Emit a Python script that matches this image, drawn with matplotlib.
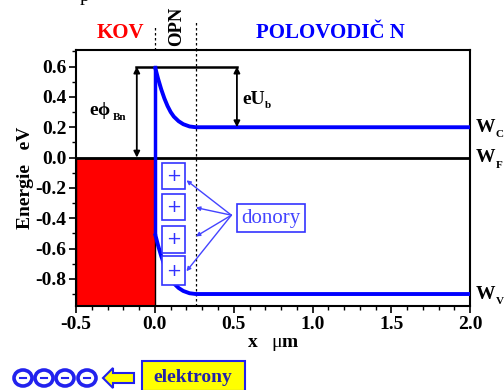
import matplotlib
matplotlib.use("Agg")
import matplotlib.pyplot as plt
from matplotlib.patches import Rectangle, Ellipse, FancyArrow
import numpy as np

plt.rcParams['font.family'] = ['Liberation Serif', 'DejaVu Serif']
plt.rcParams['mathtext.fontset'] = 'custom'
plt.rcParams['mathtext.rm'] = 'Liberation Serif'
plt.rcParams['mathtext.bf'] = 'Liberation Serif:bold'

# data
x_wc = [0.0, 0.02, 0.04, 0.06, 0.08, 0.10, 0.12, 0.15, 0.18, 0.22, 0.26, 0.40, 1.0, 2.0]
wc = [0.60, 0.52, 0.45, 0.39, 0.34, 0.30, 0.27, 0.24, 0.22, 0.205, 0.20, 0.20, 0.20, 0.20]
wv = [-0.50, -0.58, -0.65, -0.71, -0.76, -0.80, -0.83, -0.86, -0.88, -0.895, -0.90, -0.90, -0.90, -0.90]
w_f = 0.0
barrier = 0.6
x_metal = [-0.5, 0.0]
x_opn = 0.26
x_ticks = [-0.5, 0.0, 0.5, 1.0, 1.5, 2.0]
x_ticklabels = ['-0.5', '0.0', '0.5', '1.0', '1.5', '2.0']
y_ticks = [-0.8, -0.6, -0.4, -0.2, 0.0, 0.2, 0.4, 0.6]
y_ticklabels = ['-0.8', '-0.6', '-0.4', '-0.2', '0.0', '0.2', '0.4', '0.6']
donor_y = [(-0.21, -0.035), (-0.415, -0.24), (-0.63, -0.45), (-0.84, -0.65)]
donor_x = (0.045, 0.19)
donor_targets = [(0.20, -0.15), (0.26, -0.33), (0.26, -0.52), (0.20, -0.75)]

fig = plt.figure(figsize=(5.04, 3.90), dpi=100)
ax = fig.add_axes([0.151, 0.215, 0.782, 0.657])
ax.set_xlim(-0.5, 2.0)
ax.set_ylim(-0.98, 0.71)

# metal
ax.add_patch(Rectangle((x_metal[0], -0.98), x_metal[1] - x_metal[0], 0.98 - w_f,
                       facecolor='#ff0000', edgecolor='black', lw=1, zorder=1))
# Fermi level
ax.axhline(w_f, color='black', lw=2, zorder=3)
# OPN boundary
ax.axvline(x_opn, color='black', lw=0.9, ls=(0, (2, 2)), zorder=2)

# bands
ax.plot(x_wc, wc, color='#0000ff', lw=2.8, zorder=4, solid_capstyle='butt')
ax.plot(x_wc, wv, color='#0000ff', lw=2.8, zorder=4, solid_capstyle='butt')
ax.plot([0, 0], [barrier, wv[0]], color='#0000ff', lw=2.5, zorder=4)

# bracket and arrows
ax.plot([-0.12, 0.52], [barrier, barrier], color='black', lw=1.8, zorder=3)
for xa, y0, y1 in [(-0.115, barrier, w_f), (0.52, barrier, wc[-1])]:
    ax.annotate('', xy=(xa, y1), xytext=(xa, y0),
                arrowprops=dict(arrowstyle='<|-|>', color='black', lw=1.3,
                                mutation_scale=9, shrinkA=0, shrinkB=0), zorder=5)
ax.text(-0.35, 0.31, r'e$\mathbf{\phi}$', fontsize=14, fontweight='bold', ha='center', va='center')
ax.text(-0.225, 0.265, 'Bn', fontsize=8, fontweight='bold', ha='center', va='center')
ax.text(0.625, 0.38, 'eU', fontsize=14, fontweight='bold', ha='center', va='center')
ax.text(0.715, 0.345, 'b', fontsize=8, fontweight='bold', ha='center', va='center')

# donors
for (y0, y1), (tx, ty) in zip(donor_y, donor_targets):
    ax.add_patch(Rectangle((donor_x[0], y0), donor_x[1] - donor_x[0], y1 - y0,
                           facecolor='white', edgecolor='#3333ff', lw=1.2, zorder=5))
    ax.text((donor_x[0] + donor_x[1]) / 2, (y0 + y1) / 2, '+', color='#3333ff',
            fontsize=13, ha='center', va='center', zorder=6, family='DejaVu Sans')
    ax.annotate('', xy=(tx, ty), xytext=(0.485, -0.38),
                arrowprops=dict(arrowstyle='-|>', color='#4444ff', lw=1.0,
                                mutation_scale=6, shrinkA=0, shrinkB=0), zorder=6)
ax.text(0.735, -0.40, 'donory', color='#4444ff', fontsize=15, ha='center', va='center',
        bbox=dict(boxstyle='square,pad=0.22', facecolor='white', edgecolor='#3333ff', lw=1.2),
        zorder=7)

# axes styling
ax.set_xticks(x_ticks)
ax.set_xticklabels(x_ticklabels, fontsize=14, fontweight='bold')
ax.set_yticks(y_ticks)
ax.set_yticklabels(y_ticklabels, fontsize=14, fontweight='bold')
ax.set_xticks(np.arange(-0.5, 2.01, 0.1), minor=True)
ax.set_yticks(np.arange(-0.9, 0.71, 0.1), minor=True)
ax.tick_params(which='major', direction='out', length=5, width=1.2, pad=2,
               top=False, right=False)
ax.tick_params(which='minor', direction='out', length=3, width=1.0,
               top=False, right=False)
for s in ax.spines.values():
    s.set_linewidth(1.5)
ax.set_xlabel(r'x   $\mathrm{\mu}$m', fontsize=14, fontweight='bold', labelpad=2)
ax.set_ylabel('Energie   eV', fontsize=14, fontweight='bold', labelpad=1)

# right-side labels
for lab, sub, yv in [('W', 'C', wc[-1]), ('W', 'F', w_f), ('W', 'V', wv[-1])]:
    ax.text(1.015, yv, lab, transform=ax.get_yaxis_transform(), fontsize=14,
            fontweight='bold', ha='left', va='center', clip_on=False)
    ax.text(1.064, yv - 0.05, sub, transform=ax.get_yaxis_transform(), fontsize=8,
            fontweight='bold', ha='left', va='center', clip_on=False)

# top labels and boundary lines
ax.text(-0.22, 1.066, 'KOV', color='#ff0000', fontsize=15, fontweight='bold',
        ha='center', va='center', transform=ax.get_xaxis_transform(), clip_on=False)
ax.text(1.11, 1.066, 'POLOVODIČ N', color='#0000ff', fontsize=15, fontweight='bold',
        ha='center', va='center', transform=ax.get_xaxis_transform(), clip_on=False)
ax.text(0.135, 1.094, 'OPN', fontsize=13.5, fontweight='bold', rotation=90,
        ha='center', va='center', transform=ax.get_xaxis_transform(), clip_on=False)
ax.plot([0, 0], [1.0, 1.09], color='black', lw=0.9, ls=(0, (2, 2)),
        transform=ax.get_xaxis_transform(), clip_on=False)
ax.plot([x_opn, x_opn], [1.0, 1.11], color='black', lw=0.9, ls=(0, (2, 2)),
        transform=ax.get_xaxis_transform(), clip_on=False)

fig.text(0.168, 0.997, 'p', fontsize=14, ha='center', va='baseline')

# electrons legend (figure coordinates)
bx = fig.add_axes([0, 0, 1, 1], facecolor='none')
bx.set_xlim(0, 504)
bx.set_ylim(390, 0)
bx.axis('off')
for cx in [23, 44, 65, 87]:
    bx.add_patch(Ellipse((cx, 378), 18, 16, facecolor='white', edgecolor='#2222ee', lw=2.6))
    bx.plot([cx - 3, cx + 3], [378, 378], color='#2222ee', lw=1.5)
bx.add_patch(FancyArrow(134, 378, -31, 0, width=10, head_width=20, head_length=10,
                        length_includes_head=True, facecolor='#ffff00', edgecolor='#2222ee', lw=1.5))
bx.add_patch(Rectangle((142, 361), 103, 30, facecolor='#ffff00', edgecolor='#2222ee', lw=1.5))
bx.text(193, 377, 'elektrony', color='#2222aa', fontsize=14, fontweight='bold',
        ha='center', va='center')

fig.savefig('out.png', dpi=100)
